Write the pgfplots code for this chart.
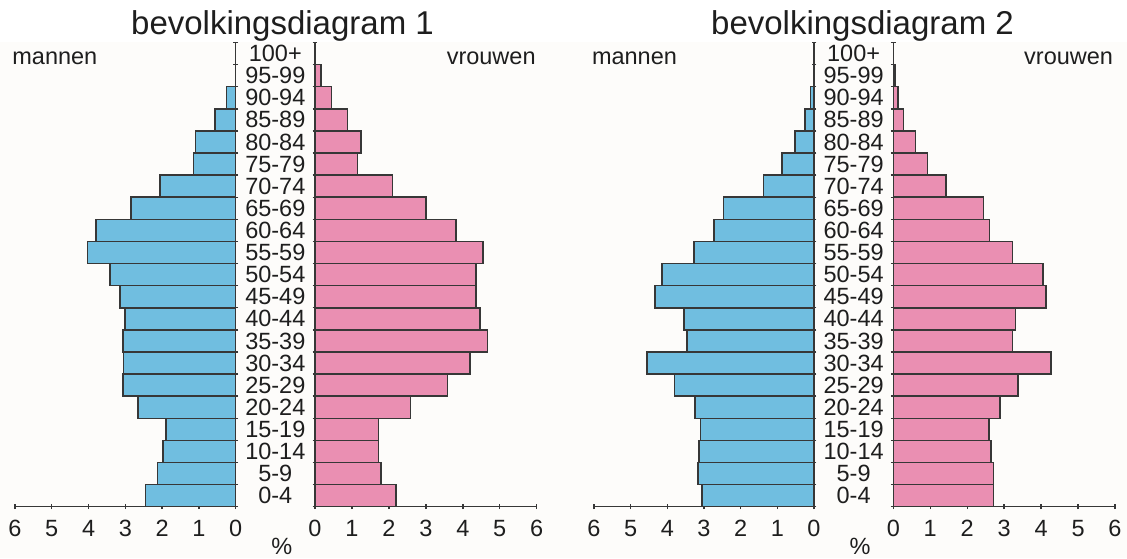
\documentclass[border=0pt]{standalone}
\usepackage{pgfplots}
\pgfplotsset{compat=1.18}
\usepackage{pgfplotstable}
\usepackage{fontspec}
\setmainfont{Liberation Sans}
\definecolor{mblue}{RGB}{112,190,224}
\definecolor{wpink}{RGB}{234,143,178}
\definecolor{edge}{RGB}{55,55,55}
\definecolor{bg}{RGB}{253,252,250}
\definecolor{txt}{RGB}{30,30,30}

% age index: 0 = 0-4, 1 = 5-9, ..., 20 = 100+
\pgfplotstableread{
age v
0 2.45
1 2.13
2 1.97
3 1.90
4 2.66
5 3.07
6 3.05
7 3.07
8 3.01
9 3.14
10 3.42
11 4.03
12 3.80
13 2.85
14 2.06
15 1.15
16 1.09
17 0.56
18 0.25
}\mone
\pgfplotstableread{
age v
0 2.19
1 1.78
2 1.72
3 1.72
4 2.59
5 3.59
6 4.20
7 4.67
8 4.47
9 4.36
10 4.36
11 4.54
12 3.81
13 3.00
14 2.10
15 1.15
16 1.25
17 0.88
18 0.45
19 0.16
}\wone
\pgfplotstableread{
age v
0 3.06
1 3.17
2 3.13
3 3.09
4 3.25
5 3.81
6 4.56
7 3.46
8 3.55
9 4.34
10 4.15
11 3.27
12 2.73
13 2.47
14 1.38
15 0.87
16 0.52
17 0.24
18 0.09
}\mtwo
\pgfplotstableread{
age v
0 2.71
1 2.71
2 2.64
3 2.59
4 2.89
5 3.37
6 4.27
7 3.22
8 3.31
9 4.13
10 4.05
11 3.22
12 2.60
13 2.44
14 1.42
15 0.92
16 0.60
17 0.27
18 0.12
19 0.05
}\wtwo

\pgfplotsset{
  pyr/.style={
    scale only axis, height=232.1pt,
    ymin=-0.5, ymax=20.5,
    tick style={draw=edge, line width=0.7pt},
    tick align=outside, major tick length=2.4pt,
    ytick={-0.5,0.5,...,20.5}, yticklabels={},
    every tick label/.append style={font=\fontsize{11.75}{14}\selectfont, text=txt},
    xticklabel style={yshift=-2pt},
    xbar, bar width=1, bar shift=0pt,
    clip=false,
  },
  men/.style={pyr,
    xmin=-6, xmax=0,
    axis x line=bottom, axis y line=right,
    axis line style={draw=edge, line width=0.7pt, -},
    x axis line style={-}, y axis line style={-},
    xtick={-6,-5,-4,-3,-2,-1,0}, xticklabels={6,5,4,3,2,1,0},
    extra y ticks={0,1,2,3,4,5,6,7,8,9,10,11,12,13,14,15,16,17,18,19,20},
    extra y tick labels={0-4,5-9,10-14,15-19,20-24,25-29,30-34,35-39,40-44,45-49,50-54,55-59,60-64,65-69,70-74,75-79,80-84,85-89,90-94,95-99,100+},
    extra y tick style={major tick length=0pt, yticklabel style={anchor=center, xshift=19.8pt}},
  },
  women/.style={pyr,
    xmin=0, xmax=6,
    axis x line=bottom, axis y line=left,
    axis line style={draw=edge, line width=0.7pt, -},
    x axis line style={-}, y axis line style={-},
    xtick={0,1,2,3,4,5,6}, xticklabels={0,1,2,3,4,5,6},
  },
  mbar/.style={fill=mblue, draw=edge, line width=0.75pt},
  wbar/.style={fill=wpink, draw=edge, line width=0.75pt},
}

\begin{document}
\begin{tikzpicture}
\useasboundingbox (0,0) rectangle (563.5pt,279pt);
\fill[bg] (0,0) rectangle (563.5pt,258pt);

% ---- diagram 1
\begin{axis}[men, at={(7.5pt,25.65pt)}, anchor=south west, width=110.35pt]
\addplot[mbar] table[x expr=-\thisrow{v}, y=age]{\mone};
\end{axis}
\begin{axis}[women, at={(157.5pt,25.65pt)}, anchor=south west, width=110.85pt]
\addplot[wbar] table[x=v, y=age]{\wone};
\end{axis}

% ---- diagram 2
\begin{axis}[men, at={(297pt,25.65pt)}, anchor=south west, width=110pt]
\addplot[mbar] table[x expr=-\thisrow{v}, y=age]{\mtwo};
\end{axis}
\begin{axis}[women, at={(446.65pt,25.65pt)}, anchor=south west, width=110.85pt]
\addplot[wbar] table[x=v, y=age]{\wtwo};
\end{axis}

% ---- texts
\begin{scope}[every node/.style={text=txt, inner sep=0pt}]
\node[anchor=base, font=\fontsize{16.5}{20}\selectfont] at (141.25pt,261.5pt) {bevolkingsdiagram 1};
\node[anchor=base, font=\fontsize{16.5}{20}\selectfont] at (431.25pt,261.5pt) {bevolkingsdiagram 2};
\node[anchor=base west, font=\fontsize{11.75}{14}\selectfont] at (6pt,246.5pt) {mannen};
\node[anchor=base east, font=\fontsize{11.75}{14}\selectfont] at (268pt,246.5pt) {vrouwen};
\node[anchor=base west, font=\fontsize{11.75}{14}\selectfont] at (295.8pt,246.5pt) {mannen};
\node[anchor=base east, font=\fontsize{11.75}{14}\selectfont] at (556.7pt,246.5pt) {vrouwen};
\node[anchor=center, font=\fontsize{11.75}{14}\selectfont] at (140.85pt,5.75pt) {\%};
\node[anchor=center, font=\fontsize{11.75}{14}\selectfont] at (430pt,5.75pt) {\%};
\end{scope}
\end{tikzpicture}
\end{document}
